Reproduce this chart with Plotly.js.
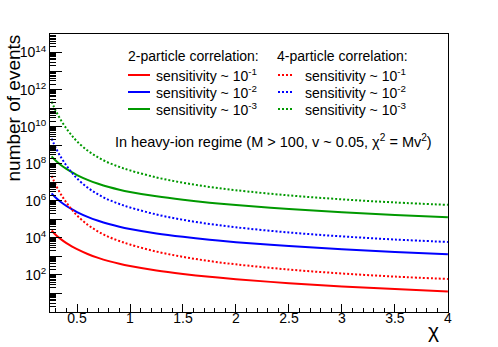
<!DOCTYPE html>
<html>
<head>
<meta charset="utf-8">
<script src="https://cdn.plot.ly/plotly-3.0.1.min.js"></script>
<style>html,body{margin:0;padding:0;background:#fff;}#chart{width:498px;height:347px;}</style>
</head>
<body>
<div id="chart"></div>
<script>
// ---- data ----
var chi = [0.26, 0.3, 0.35, 0.4, 0.45, 0.5, 0.6, 0.7, 0.8, 0.9, 1.0, 1.25, 1.5, 1.75, 2.0, 2.5, 3.0, 3.5, 4.0];

var twoPartS1 = [25100, 14450, 8320, 5250, 3510, 2455, 1350, 832, 556, 398, 302, 174, 113.5, 79.4, 58.9, 35.9, 24.1, 17.3, 12.9];
var twoPartS2 = [2.51e6, 1.445e6, 8.32e5, 5.25e5, 3.51e5, 2.455e5, 1.35e5, 8.32e4, 5.56e4, 3.98e4, 3.02e4, 1.74e4, 1.135e4, 7940, 5890, 3590, 2410, 1730, 1290];
var twoPartS3 = [2.51e8, 1.445e8, 8.32e7, 5.25e7, 3.51e7, 2.455e7, 1.35e7, 8.32e6, 5.56e6, 3.98e6, 3.02e6, 1.74e6, 1.135e6, 7.94e5, 5.89e5, 3.59e5, 2.41e5, 1.73e5, 1.29e5];

var fourPartS1 = [2.24e7, 7.08e6, 2.14e6, 7.94e5, 3.39e5, 1.62e5, 5.13e4, 2.19e4, 1.12e4, 6760, 4370, 1820, 944, 562, 372, 195, 120, 81.3, 60.3];
var fourPartS2 = [2.24e9, 7.08e8, 2.14e8, 7.94e7, 3.39e7, 1.62e7, 5.13e6, 2.19e6, 1.12e6, 6.76e5, 4.37e5, 1.82e5, 9.44e4, 5.62e4, 3.72e4, 1.95e4, 1.20e4, 8130, 6030];
var fourPartS3 = [2.24e11, 7.08e10, 2.14e10, 7.94e9, 3.39e9, 1.62e9, 5.13e8, 2.19e8, 1.12e8, 6.76e7, 4.37e7, 1.82e7, 9.44e6, 5.62e6, 3.72e6, 1.95e6, 1.20e6, 8.13e5, 6.03e5];

var sensLabels = ["sensitivity ~ 10<sup>-1</sup>", "sensitivity ~ 10<sup>-2</sup>", "sensitivity ~ 10<sup>-3</sup>"];
var yLabelVals = [1e2, 1e4, 1e6, 1e8, 1e10, 1e12, 1e14];
var yLabelText = ["10<sup>2</sup>", "10<sup>4</sup>", "10<sup>6</sup>", "10<sup>8</sup>", "10<sup>10</sup>", "10<sup>12</sup>", "10<sup>14</sup>"];
var yUnlabeledDecades = [1e1, 1e3, 1e5, 1e7, 1e9, 1e11, 1e13];

// ---- styling ----
var RED = "#ff0000", BLUE = "#0000ff", GREEN = "#009900";
var colors = [RED, BLUE, GREEN];
var DOT = "2px,2px";
var FONT = "Liberation Sans, Arial, Helvetica, sans-serif";

var L = 50, R = 448, T = 34, B = 312;
function px(x) { return (x - L) / (R - L); }
function py(y) { return (B - y) / (B - T); }

function tr(y, color, dash) {
  return {x: chi, y: y, type: "scatter", mode: "lines", showlegend: false,
          hoverinfo: "skip",
          line: {color: color, width: 2, dash: dash, shape: "spline", smoothing: 1}};
}
var data = [
  tr(twoPartS1, RED, "solid"), tr(twoPartS2, BLUE, "solid"), tr(twoPartS3, GREEN, "solid"),
  tr(fourPartS1, RED, DOT), tr(fourPartS2, BLUE, DOT), tr(fourPartS3, GREEN, DOT),
  {x: [], y: [], type: "scatter", mode: "lines", yaxis: "y2", showlegend: false, hoverinfo: "skip"}
];

var annotations = [], shapes = [];
function txt(x, y, s, size, xa, extra) {
  var a = {xref: "paper", yref: "paper", x: px(x), y: py(y), text: s, showarrow: false,
           xanchor: xa || "left", yanchor: "middle", font: {family: FONT, size: size || 14, color: "#000"}};
  if (extra) for (var k in extra) a[k] = extra[k];
  annotations.push(a);
}
txt(126, 56, "2-particle correlation:");
txt(275, 56, "4-particle correlation:");
var rowY = [75, 92, 109];
for (var i = 0; i < 3; i++) {
  shapes.push({type: "line", xref: "paper", yref: "paper", x0: px(128), x1: px(150), y0: py(rowY[i]), y1: py(rowY[i]),
               line: {color: colors[i], width: 2}});
  shapes.push({type: "line", xref: "paper", yref: "paper", x0: px(278), x1: px(293), y0: py(rowY[i]), y1: py(rowY[i]),
               line: {color: colors[i], width: 2, dash: DOT}});
  txt(154, rowY[i], sensLabels[i]);
  txt(303, rowY[i], sensLabels[i]);
}
txt(113, 141, "In heavy-ion regime (M > 100, v ~ 0.05, \u03c7<sup>2</sup> = Mv<sup>2</sup>)", 14.5);
// axis titles placed like ROOT (right/top aligned)
txt(13, 33, "number of events", 19, "center", {textangle: -90, yanchor: "top"});
txt(441, 330, "\u03c7", 21, "right");

var layout = {
  width: 498, height: 347,
  margin: {l: L, r: 498 - R, t: T, b: 347 - B, pad: 0},
  paper_bgcolor: "#fff", plot_bgcolor: "#fff",
  font: {family: FONT, size: 14, color: "#000"},
  showlegend: false,
  xaxis: {
    range: [0.245, 4.001], tick0: 0, dtick: 0.5, ticks: "inside", ticklen: 8, tickwidth: 1, tickcolor: "#000",
    showline: true, linecolor: "#000", linewidth: 1, mirror: true, showgrid: false, zeroline: false,
    tickfont: {family: FONT, size: 14}, ticklabelstandoff: -7,
    minor: {dtick: 0.1, tick0: 0, ticks: "inside", ticklen: 4, tickcolor: "#000", showgrid: false}
  },
  yaxis: {
    type: "log", range: [0, 15], tickmode: "array", tickvals: yLabelVals, ticktext: yLabelText,
    ticks: "inside", ticklen: 12, tickwidth: 1, tickcolor: "#000",
    showline: true, linecolor: "#000", linewidth: 1, mirror: true, showgrid: false, zeroline: false,
    tickfont: {family: FONT, size: 14},
    minor: {dtick: "D1", ticks: "inside", ticklen: 6, tickcolor: "#000", showgrid: false}
  },
  yaxis2: {
    type: "log", range: [0, 15], overlaying: "y", side: "left", tickmode: "array", tickvals: yUnlabeledDecades,
    showticklabels: false, ticks: "inside", ticklen: 12, tickwidth: 1, tickcolor: "#000",
    showline: false, showgrid: false, zeroline: false
  },
  annotations: annotations,
  shapes: shapes
};
Plotly.newPlot("chart", data, layout, {staticPlot: true, displayModeBar: false});
</script>
</body>
</html>
